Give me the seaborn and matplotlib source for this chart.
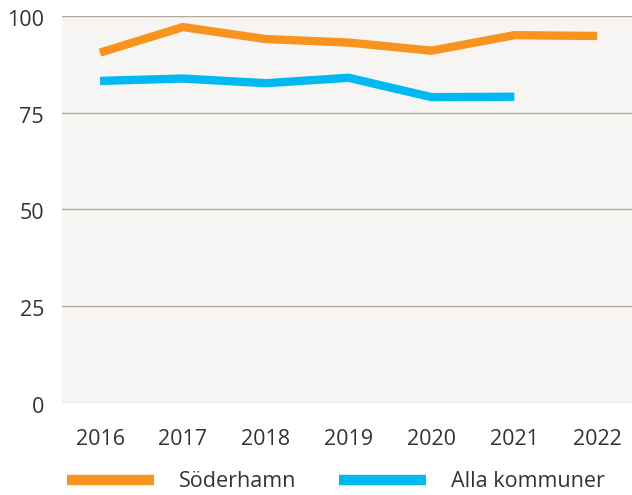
import matplotlib
matplotlib.use("Agg")
import matplotlib.pyplot as plt
import matplotlib.transforms as mtransforms
import seaborn as sns
import pandas as pd
from matplotlib.lines import Line2D

years = [2016, 2017, 2018, 2019, 2020, 2021, 2022]
soderhamn = [90.5, 97.1, 94.0, 93.1, 91.0, 95.0, 94.8]
alla_years = [2016, 2017, 2018, 2019, 2020, 2021]
alla = [83.2, 83.8, 82.6, 84.0, 79.0, 79.1]
series_names = ["Söderhamn", "Alla kommuner"]
colors = ["#f7931e", "#00b9f1"]
yticks = [0, 25, 50, 75, 100]

df = pd.concat([
    pd.DataFrame({"year": years, "value": soderhamn, "serie": series_names[0]}),
    pd.DataFrame({"year": alla_years, "value": alla, "serie": series_names[1]}),
])

sns.set_theme(style="white")
plt.rcParams['font.family'] = ['Open Sans', 'DejaVu Sans']

fig = plt.figure(figsize=(6.32, 4.95), dpi=100)
ax = fig.add_axes([0.098, 0.186, 0.902, 0.782])
ax.set_facecolor("#f7f5f3")

sns.lineplot(data=df, x="year", y="value", hue="serie", palette=colors,
             hue_order=series_names, linewidth=6, ax=ax, legend=False,
             solid_capstyle="butt", solid_joinstyle="miter")

ax.set_ylim(0, 100)
ax.set_xlim(2016 - 0.46, 2022 + 0.42)
ax.set_yticks(yticks)
ax.set_xticks(years)
ax.set_xticklabels([str(y) for y in years])
ax.set_xlabel("")
ax.set_ylabel("")
for y in yticks:
    ax.axhline(y, color="#b3a69c", linewidth=1, zorder=0.5)
for s in ax.spines.values():
    s.set_visible(False)
ax.tick_params(axis="both", length=0, labelsize=15.5, colors="#333333")
ax.tick_params(axis="x", pad=18.5)
ax.tick_params(axis="y", pad=13)
off = mtransforms.ScaledTranslation(0, -2 / 100, fig.dpi_scale_trans)
for lab in ax.get_yticklabels():
    lab.set_transform(lab.get_transform() + off)

handles = [Line2D([0], [0], color=c, linewidth=7.5, solid_capstyle="butt") for c in colors]
fig.legend(handles, series_names, loc="center left", bbox_to_anchor=(0.106, 0.027),
           ncol=2, frameon=False, fontsize=15.5, handlelength=4.05, handletextpad=1.16,
           columnspacing=1.95, labelcolor="#333333", borderpad=0, borderaxespad=0)

fig.savefig("out.png", dpi=100)
